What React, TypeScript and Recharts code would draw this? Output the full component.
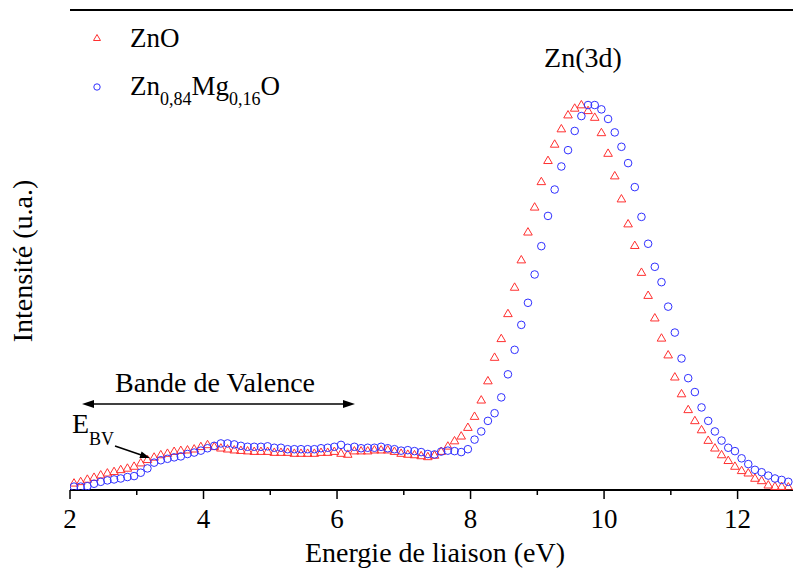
import React from 'react';
import { ScatterChart, Scatter, XAxis, YAxis, ReferenceLine, Legend } from 'recharts';

const energies = [
  2.06, 2.16, 2.26, 2.36, 2.46, 2.56, 2.66, 2.76, 2.86, 2.96,
  3.06, 3.16, 3.26, 3.36, 3.46, 3.56, 3.66, 3.76, 3.86, 3.96,
  4.06, 4.16, 4.26, 4.36, 4.46, 4.56, 4.66, 4.76, 4.86, 4.96,
  5.06, 5.16, 5.26, 5.36, 5.46, 5.56, 5.66, 5.76, 5.86, 5.96,
  6.06, 6.16, 6.26, 6.36, 6.46, 6.56, 6.66, 6.76, 6.86, 6.96,
  7.06, 7.16, 7.26, 7.36, 7.46, 7.56, 7.66, 7.76, 7.86, 7.96,
  8.06, 8.16, 8.26, 8.36, 8.46, 8.56, 8.66, 8.76, 8.86, 8.96,
  9.06, 9.16, 9.26, 9.36, 9.46, 9.56, 9.66, 9.76, 9.86, 9.96,
  10.06, 10.16, 10.26, 10.36, 10.46, 10.56, 10.66, 10.76, 10.86, 10.96,
  11.06, 11.16, 11.26, 11.36, 11.46, 11.56, 11.66, 11.76, 11.86, 11.96,
  12.06, 12.16, 12.26, 12.36, 12.46, 12.56, 12.66, 12.76,
];

const znO = [
  1.4, 1.7, 2.2, 2.6, 3.1, 3.5, 3.8, 4.2, 4.5, 4.9,
  5.6, 6.3, 6.8, 7.3, 7.6, 8.0, 8.2, 8.3, 8.5, 9.0,
  9.4, 9.0, 8.7, 8.5, 8.3, 8.2, 8.1, 8.0, 8.0, 8.0,
  7.8, 7.8, 7.8, 7.6, 7.6, 7.6, 7.6, 7.8, 7.8, 8.0,
  7.6, 7.4, 8.1, 8.1, 8.1, 8.3, 8.3, 8.3, 8.0, 7.6,
  7.4, 7.3, 7.1, 6.9, 7.2, 8.0, 9.1, 10.2, 11.2, 13.0,
  15.3, 18.7, 22.7, 27.6, 31.5, 36.7, 42.2, 47.9, 53.7, 58.9,
  64.2, 68.6, 72.0, 75.2, 78.1, 79.5, 80.2, 79.0, 77.6, 74.4,
  70.1, 65.4, 60.6, 55.4, 50.9, 45.3, 40.5, 35.8, 31.6, 28.1,
  23.5, 20.0, 16.7, 14.4, 12.5, 10.3, 8.7, 7.3, 6.1, 4.9,
  4.0, 3.5, 2.4, 1.9, 1.0, 0.7, 0.7, 0.6,
];

const znMgO = [
  0.7, 0.7, 0.8, 1.3, 1.7, 2.0, 2.2, 2.4, 2.7, 2.9,
  3.6, 4.5, 5.7, 6.2, 6.5, 6.8, 7.0, 7.5, 7.8, 8.2,
  8.7, 9.2, 9.7, 9.7, 9.5, 9.2, 9.0, 9.0, 9.0, 9.1,
  8.8, 8.8, 8.5, 8.5, 8.5, 8.5, 8.5, 8.7, 8.8, 9.0,
  9.4, 8.8, 9.0, 8.7, 8.8, 8.8, 9.0, 8.7, 8.5, 8.2,
  8.3, 8.1, 7.9, 7.5, 7.4, 8.0, 8.2, 8.1, 7.9, 8.5,
  10.5, 12.2, 14.4, 16.0, 19.3, 24.1, 29.2, 34.4, 39.0, 44.9,
  50.8, 57.1, 62.6, 67.4, 70.8, 74.8, 77.9, 80.2, 80.2, 79.3,
  77.3, 74.5, 71.5, 68.1, 63.1, 56.9, 51.3, 46.5, 43.3, 38.2,
  32.8, 27.4, 23.3, 20.4, 17.2, 14.4, 12.2, 10.3, 8.8, 8.1,
  6.6, 5.4, 4.2, 3.7, 3.0, 2.4, 2.1, 1.7,
];

const xTicks = [2, 3, 4, 5, 6, 7, 8, 9, 10, 11, 12];
const seriesNames = ['ZnO', 'Zn0,84Mg0,16O'];

const dataZnO = energies.map((e, i) => ({ e, v: znO[i] }));
const dataZnMgO = energies.map((e, i) => ({ e, v: znMgO[i] }));

const FONT = "'Liberation Serif', 'DejaVu Serif', 'Noto Serif', serif";
const RED = '#ff3030';
const BLUE = '#3030ff';

const TriangleShape = (props: any) => {
  const { cx, cy } = props;
  if (cx == null || cy == null) return null;
  return (
    <polygon
      points={`${cx},${cy - 4.6} ${cx - 4.3},${cy + 2.8} ${cx + 4.3},${cy + 2.8}`}
      fill="none"
      stroke={RED}
      strokeWidth={1}
    />
  );
};

const CircleShape = (props: any) => {
  const { cx, cy } = props;
  if (cx == null || cy == null) return null;
  return <circle cx={cx} cy={cy} r={3.8} fill="none" stroke={BLUE} strokeWidth={1} />;
};

const XTick = (props: any) => {
  const { x, y, payload } = props;
  const v = payload.value;
  const major = v % 2 === 0;
  return (
    <g>
      <line x1={x} y1={y} x2={x} y2={y + (major ? 9 : 5)} stroke="#000" strokeWidth={1.5} />
      {major && (
        <text x={x} y={y + 38} textAnchor="middle" style={{ fontFamily: FONT }} fontSize={27} fill="#000">
          {v}
        </text>
      )}
    </g>
  );
};

const LegendContent = () => (
  <svg width={230} height={110} style={{ display: 'block' }}>
    <polygon points="17,34.5 13.5,40.5 20.5,40.5" fill="none" stroke={RED} strokeWidth={1} />
    <text x={50} y={47} style={{ fontFamily: FONT }} fontSize={27} fill="#000">
      {seriesNames[0]}
    </text>
    <circle cx={17} cy={87} r={3.2} fill="none" stroke={BLUE} strokeWidth={1} />
    <text x={50} y={95} style={{ fontFamily: FONT }} fontSize={27} fill="#000">
      <tspan>Zn</tspan>
      <tspan fontSize={18} dy={10}>0,84</tspan>
      <tspan dy={-10}>Mg</tspan>
      <tspan fontSize={18} dy={10}>0,16</tspan>
      <tspan dy={-10}>O</tspan>
    </text>
  </svg>
);

export default function App() {
  return (
    <div style={{ position: 'absolute', left: 0, top: 0, width: 793, height: 577, background: '#fff', fontFamily: FONT }}>
      <ScatterChart width={793} height={577} margin={{ top: 10, right: 0, bottom: 0, left: 70 }}>
        <XAxis
          dataKey="e"
          type="number"
          domain={[2, 12.83]}
          ticks={xTicks}
          interval={0}
          allowDataOverflow
          tick={<XTick />}
          tickSize={0}
          tickMargin={0}
          tickLine={false}
          axisLine={{ stroke: '#000', strokeWidth: 2 }}
          height={87}
        />
        <YAxis
          dataKey="v"
          type="number"
          domain={[0, 100]}
          allowDataOverflow
          tick={false}
          tickLine={false}
          width={0}
          axisLine={{ stroke: '#000', strokeWidth: 2 }}
        />
        <ReferenceLine y={100} stroke="#000" strokeWidth={2} />
        <Scatter name={seriesNames[0]} data={dataZnO} shape={<TriangleShape />} isAnimationActive={false} />
        <Scatter name={seriesNames[1]} data={dataZnMgO} shape={<CircleShape />} isAnimationActive={false} />
        <Legend
          layout="vertical"
          align="center"
          verticalAlign="middle"
          wrapperStyle={{ left: 80, top: 0, width: 230, height: 110 }}
          content={<LegendContent />}
        />
      </ScatterChart>
      <svg
        width={793}
        height={577}
        style={{ position: 'absolute', left: 0, top: 0, pointerEvents: 'none', fontFamily: FONT }}
      >
        <text x={583} y={67} textAnchor="middle" fontSize={28} fill="#000">
          Zn(3d)
        </text>
        <text x={215} y={392} textAnchor="middle" fontSize={28} fill="#000">
          Bande de Valence
        </text>
        <line x1={90} y1={404} x2={347} y2={404} stroke="#000" strokeWidth={1.5} />
        <polygon points="82,404 94,400 94,408" fill="#000" />
        <polygon points="355,404 343,400 343,408" fill="#000" />
        <text x={72} y={433} fontSize={28} fill="#000">
          <tspan>E</tspan>
          <tspan fontSize={18} dy={12}>BV</tspan>
        </text>
        <line x1={115} y1={446} x2={142} y2={455.3} stroke="#000" strokeWidth={1.5} />
        <polygon points="150,458 139.4,458.1 141.6,451.5" fill="#000" />
        <text transform="translate(32,261) rotate(-90)" textAnchor="middle" fontSize={28} fill="#000">
          Intensité (u.a.)
        </text>
        <text x={435} y={562} textAnchor="middle" fontSize={28} fill="#000">
          Energie de liaison (eV)
        </text>
      </svg>
    </div>
  );
}
